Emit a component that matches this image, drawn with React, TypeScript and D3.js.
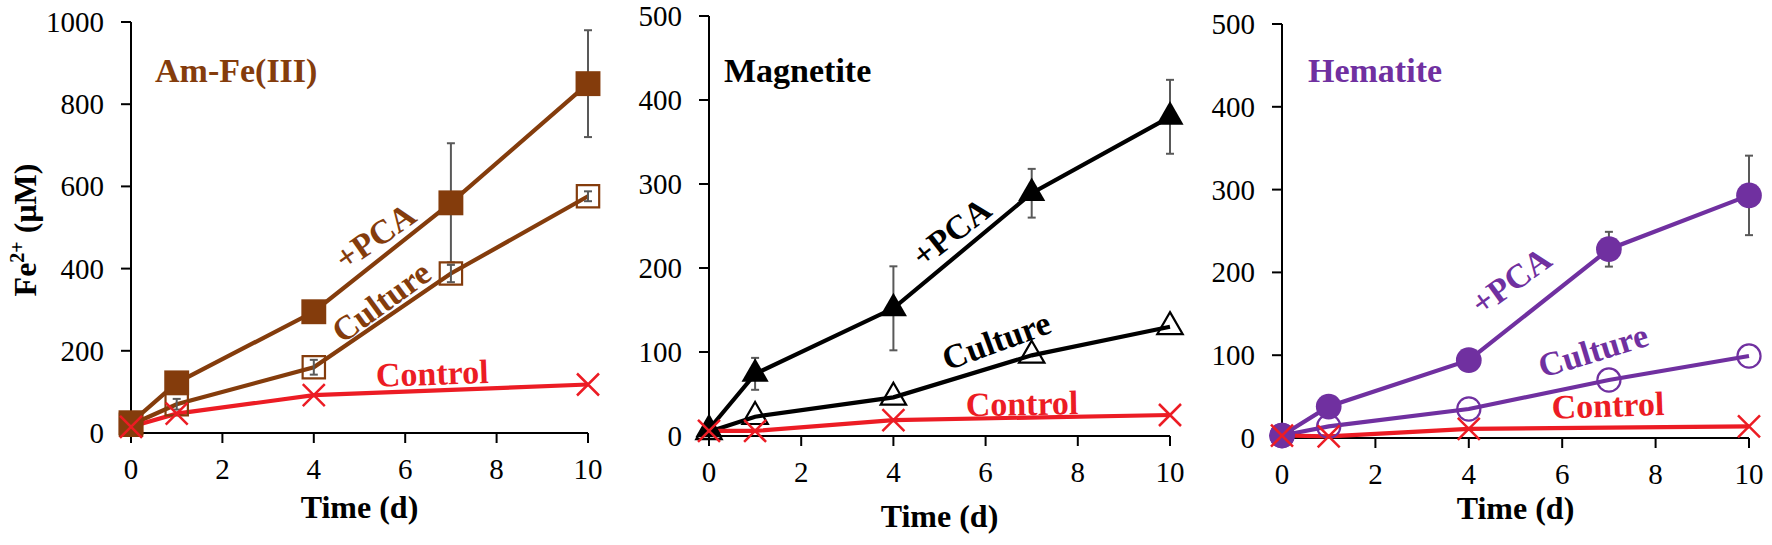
import * as d3 from "d3";
import React, { useEffect, useRef } from "react";

const days = [0, 1, 4, 7, 10];
const controlDays = [0, 1, 4, 10];
const xTicks = [0, 2, 4, 6, 8, 10];

// Am-Fe(III)
const amPca = [25, 122, 295, 560, 850];
const amPcaErr = [4, 8, 10, 145, 130];
const amCulture = [20, 70, 160, 388, 576];
const amCultureErr = [3, 13, 18, 21, 12];
const amControl = [15, 47, 92, 118];
const amTicks = [0, 200, 400, 600, 800, 1000];

// Magnetite
const magPca = [8, 74, 152, 289, 380];
const magPcaErr = [3, 19, 50, 29, 44];
const magCulture = [5, 23, 46, 96, 130];
const magCultureErr = [0, 0, 0, 0, 0];
const magControl = [6, 6, 19, 25];

// Hematite
const hemPca = [3, 38, 94, 228, 293];
const hemPcaErr = [2, 4, 5, 21, 48];
const hemCulture = [3, 14, 35, 70, 99];
const hemCultureErr = [0, 0, 0, 0, 0];
const hemControl = [3, 2, 11, 14];
const oxideTicks = [0, 100, 200, 300, 400, 500];

const BROWN = "#843c0c";
const PURPLE = "#7030a0";
const RED = "#ec1c24";
const ERR = "#595959";
const FONT = "'Liberation Serif', 'Times New Roman', serif";

type Label = { text: string; day: number; value: number; angle: number };

const PANELS = [
  {
    title: "Am-Fe(III)", titleX: 155, color: BROWN, marker: "square",
    left: 131, right: 588, top: 22, bottom: 433, yMax: 1000, yTicks: amTicks,
    timeY: 518,
    pca: amPca, pcaErr: amPcaErr, culture: amCulture, cultureErr: amCultureErr, control: amControl,
    labels: [
      { text: "+PCA", day: 5.34, value: 479, angle: -35 },
      { text: "Culture", day: 5.47, value: 320, angle: -36 },
      { text: "Control", day: 6.59, value: 146, angle: -2 },
    ] as Label[],
  },
  {
    title: "Magnetite", titleX: 724, color: "#000000", marker: "triangle",
    left: 709, right: 1170, top: 16, bottom: 436, yMax: 500, yTicks: oxideTicks,
    timeY: 527,
    pca: magPca, pcaErr: magPcaErr, culture: magCulture, cultureErr: magCultureErr, control: magControl,
    labels: [
      { text: "+PCA", day: 5.25, value: 243, angle: -38 },
      { text: "Culture", day: 6.23, value: 114, angle: -20 },
      { text: "Control", day: 6.79, value: 39, angle: -1 },
    ] as Label[],
  },
  {
    title: "Hematite", titleX: 1308, color: PURPLE, marker: "circle",
    left: 1282, right: 1749, top: 24, bottom: 438, yMax: 500, yTicks: oxideTicks,
    timeY: 519,
    pca: hemPca, pcaErr: hemPcaErr, culture: hemCulture, cultureErr: hemCultureErr, control: hemControl,
    labels: [
      { text: "+PCA", day: 4.9, value: 190, angle: -36 },
      { text: "Culture", day: 6.66, value: 106, angle: -17 },
      { text: "Control", day: 6.98, value: 40, angle: -2 },
    ] as Label[],
  },
];

const App: React.FC = () => {
  const svgRef = useRef<SVGSVGElement>(null);

  useEffect(() => {
    const svg = d3.select(svgRef.current);
    svg.selectAll("*").remove();
    svg.append("rect").attr("width", 1772).attr("height", 545).attr("fill", "white");

    // y axis title
    const yTitle = svg
      .append("text")
      .attr("transform", "translate(36,230) rotate(-90)")
      .attr("text-anchor", "middle")
      .attr("font-family", FONT)
      .attr("font-weight", "bold")
      .attr("font-size", 32);
    yTitle.append("tspan").text("Fe");
    yTitle.append("tspan").attr("font-size", 20).attr("dy", -12).text("2+");
    yTitle.append("tspan").attr("dy", 12).text(" (μM)");

    PANELS.forEach((p) => {
      const x = d3.scaleLinear().domain([0, 10]).range([p.left, p.right]);
      const y = d3.scaleLinear().domain([0, p.yMax]).range([p.bottom, p.top]);
      const g = svg.append("g");

      // axes
      g.append("line")
        .attr("x1", p.left).attr("x2", p.left)
        .attr("y1", y(p.yMax)).attr("y2", p.bottom)
        .attr("stroke", "black").attr("stroke-width", 2);
      g.append("line")
        .attr("x1", p.left).attr("x2", x(10))
        .attr("y1", p.bottom).attr("y2", p.bottom)
        .attr("stroke", "black").attr("stroke-width", 2);

      p.yTicks.forEach((t) => {
        g.append("line")
          .attr("x1", p.left - 10).attr("x2", p.left)
          .attr("y1", y(t)).attr("y2", y(t))
          .attr("stroke", "black").attr("stroke-width", 2);
        g.append("text")
          .attr("x", p.left - 27).attr("y", y(t) + 10)
          .attr("text-anchor", "end")
          .attr("font-family", FONT).attr("font-size", 29)
          .text(t);
      });
      xTicks.forEach((t) => {
        g.append("line")
          .attr("x1", x(t)).attr("x2", x(t))
          .attr("y1", p.bottom).attr("y2", p.bottom + 10)
          .attr("stroke", "black").attr("stroke-width", 2);
        g.append("text")
          .attr("x", x(t)).attr("y", p.bottom + 46)
          .attr("text-anchor", "middle")
          .attr("font-family", FONT).attr("font-size", 29)
          .text(t);
      });

      g.append("text")
        .attr("x", (p.left + p.right) / 2).attr("y", p.timeY)
        .attr("text-anchor", "middle")
        .attr("font-family", FONT).attr("font-weight", "bold").attr("font-size", 32)
        .text("Time (d)");

      g.append("text")
        .attr("x", p.titleX).attr("y", 82)
        .attr("fill", p.color)
        .attr("font-family", FONT).attr("font-weight", "bold").attr("font-size", 34)
        .text(p.title);

      const line = d3.line<[number, number]>().x((d) => x(d[0])).y((d) => y(d[1]));
      [p.culture, p.pca].forEach((vals) => {
        g.append("path")
          .attr("d", line(days.map((d, i) => [d, vals[i]] as [number, number])))
          .attr("fill", "none").attr("stroke", p.color).attr("stroke-width", 4.2);
      });
      g.append("path")
        .attr("d", line(controlDays.map((d, i) => [d, p.control[i]] as [number, number])))
        .attr("fill", "none").attr("stroke", RED).attr("stroke-width", 4.2);

      // error bars
      const bars = (vals: number[], errs: number[]) => {
        days.forEach((d, i) => {
          if (errs[i] <= 0) return;
          const cx = x(d);
          const y1 = y(vals[i] + errs[i]);
          const y2 = y(vals[i] - errs[i]);
          g.append("line").attr("x1", cx).attr("x2", cx).attr("y1", y1).attr("y2", y2)
            .attr("stroke", ERR).attr("stroke-width", 2);
          [y1, y2].forEach((yy) =>
            g.append("line").attr("x1", cx - 4).attr("x2", cx + 4).attr("y1", yy).attr("y2", yy)
              .attr("stroke", ERR).attr("stroke-width", 2)
          );
        });
      };
      bars(p.pca, p.pcaErr);
      bars(p.culture, p.cultureErr);

      // markers
      const symType =
        p.marker === "square" ? d3.symbolSquare : p.marker === "triangle" ? d3.symbolTriangle : d3.symbolCircle;
      const filledSize = p.marker === "square" ? 620 : p.marker === "triangle" ? 320 : 520;
      const openSize = p.marker === "square" ? 500 : p.marker === "triangle" ? 280 : 420;
      const sym = d3.symbol().type(symType);

      days.forEach((d, i) => {
        g.append("path")
          .attr("d", sym.size(openSize)())
          .attr("transform", `translate(${x(d)},${y(p.culture[i])})`)
          .attr("fill", "none").attr("stroke", p.color).attr("stroke-width", 2.2);
      });
      days.forEach((d, i) => {
        g.append("path")
          .attr("d", sym.size(filledSize)())
          .attr("transform", `translate(${x(d)},${y(p.pca[i])})`)
          .attr("fill", p.color);
      });
      controlDays.forEach((d, i) => {
        const cx = x(d);
        const cy = y(p.control[i]);
        const r = 11;
        g.append("path")
          .attr("d", `M${cx - r},${cy - r}L${cx + r},${cy + r}M${cx - r},${cy + r}L${cx + r},${cy - r}`)
          .attr("stroke", RED).attr("stroke-width", 2.5).attr("fill", "none");
      });

      // series labels
      p.labels.forEach((l) => {
        g.append("text")
          .attr("transform", `translate(${x(l.day)},${y(l.value)}) rotate(${l.angle})`)
          .attr("text-anchor", "middle")
          .attr("dy", "0.35em")
          .attr("fill", l.text === "Control" ? RED : p.color)
          .attr("font-family", FONT).attr("font-weight", "bold").attr("font-size", 34)
          .text(l.text);
      });
    });
  }, []);

  return (
    <svg
      ref={svgRef}
      width={1772}
      height={545}
      style={{ position: "absolute", left: 0, top: 0 }}
    />
  );
};

export default App;
